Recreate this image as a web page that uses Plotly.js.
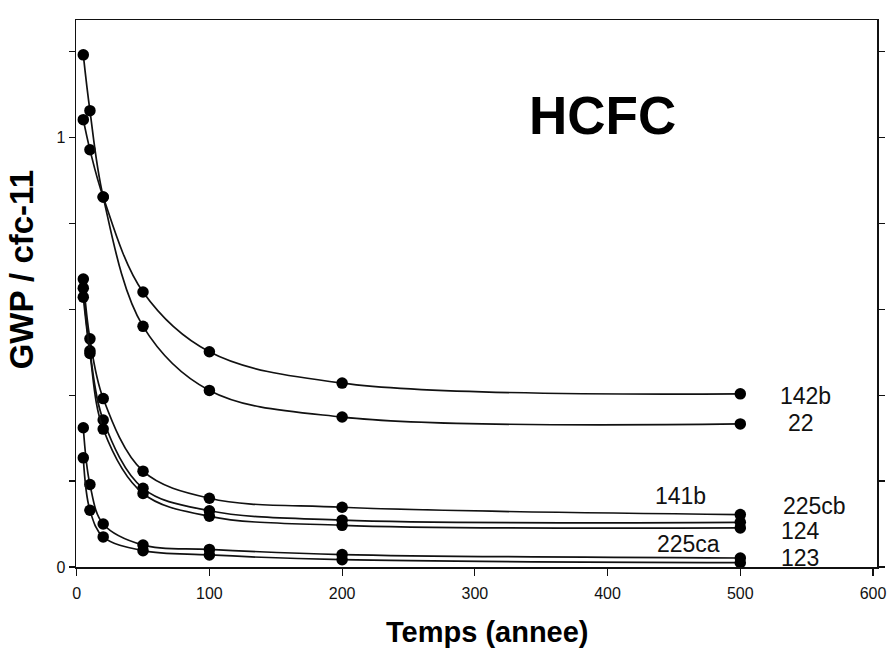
<!DOCTYPE html>
<html>
<head>
<meta charset="utf-8">
<script src="https://cdn.plot.ly/plotly-3.0.1.min.js"></script>
<style>
html,body{margin:0;padding:0;background:#fff;}
#chart{width:892px;height:651px;}
</style>
</head>
<body>
<div id="chart"></div>
<script>
// Time horizons (years)
const years = [5, 10, 20, 50, 100, 200, 500];
// GWP relative to CFC-11
const hcfc142b  = [1.041, 0.971, 0.861, 0.640, 0.501, 0.428, 0.403];
const hcfc22    = [1.192, 1.062, 0.861, 0.560, 0.411, 0.349, 0.333];
const hcfc141b  = [0.670, 0.531, 0.392, 0.223, 0.160, 0.139, 0.122];
const hcfc225cb = [0.649, 0.503, 0.342, 0.183, 0.131, 0.109, 0.104];
const hcfc124   = [0.628, 0.497, 0.321, 0.171, 0.118, 0.097, 0.091];
const hcfc225ca = [0.324, 0.192, 0.100, 0.051, 0.041, 0.029, 0.021];
const hcfc123   = [0.254, 0.132, 0.070, 0.038, 0.028, 0.017, 0.010];

const seriesNames = ['142b', '22', '141b', '225cb', '124', '225ca', '123'];
const seriesValues = [hcfc142b, hcfc22, hcfc141b, hcfc225cb, hcfc124, hcfc225ca, hcfc123];

const xTicks = [0, 100, 200, 300, 400, 500, 600];
const yTickVals = [0, 0.2, 0.4, 0.6, 0.8, 1.0, 1.2];
const yTickText = ['0', '', '', '', '', '1', ''];

const traces = seriesNames.map((n, i) => ({
  type: 'scatter',
  mode: 'lines+markers',
  name: n,
  x: years,
  y: seriesValues[i],
  line: {color: '#111', width: 1.7, shape: 'spline', smoothing: 1},
  marker: {color: '#000', size: 11.5},
  showlegend: false,
  hoverinfo: 'skip'
}));

// label placement (positions only)
const labelPos = {
  '142b':  {x: 549, y: 0.397},
  '22':    {x: 546, y: 0.336},
  '141b':  {x: 455, y: 0.166},
  '225cb': {x: 556, y: 0.141},
  '124':   {x: 545, y: 0.083},
  '225ca': {x: 461, y: 0.053},
  '123':   {x: 545, y: 0.021}
};
const labelFont = {family: 'Liberation Sans, Arial, sans-serif', size: 23, color: '#111'};

const annotations = seriesNames.map(n => ({
  x: labelPos[n].x, y: labelPos[n].y, xref: 'x', yref: 'y',
  text: n, showarrow: false, font: labelFont,
  xanchor: 'center', yanchor: 'middle'
}));
annotations.push({
  x: 396, y: 1.05, xref: 'x', yref: 'y', text: '<b>HCFC</b>', showarrow: false,
  font: {family: 'Liberation Sans, Arial, sans-serif', size: 53, color: '#000'},
  xanchor: 'center', yanchor: 'middle'
});
// axis titles
annotations.push({
  x: -0.067, y: 0.543, xref: 'paper', yref: 'paper', text: '<b>GWP / cfc-11</b>',
  showarrow: false, textangle: -90,
  font: {family: 'Liberation Sans, Arial, sans-serif', size: 33, color: '#000'},
  xanchor: 'center', yanchor: 'middle'
});
annotations.push({
  x: 0.514, y: -0.119, xref: 'paper', yref: 'paper', text: '<b>Temps (annee)</b>',
  showarrow: false,
  font: {family: 'Liberation Sans, Arial, sans-serif', size: 29, color: '#000'},
  xanchor: 'center', yanchor: 'middle'
});

const tickFont = {family: 'Liberation Sans Narrow, Arial Narrow, Liberation Sans, sans-serif', size: 16, color: '#111'};

const layout = {
  width: 892, height: 651,
  paper_bgcolor: '#fff', plot_bgcolor: '#fff',
  margin: {l: 76, r: 15, t: 20, b: 84},
  xaxis: {
    range: [-0.5, 603],
    tickvals: xTicks,
    ticktext: xTicks.map(String),
    ticks: 'outside', ticklen: 7, tickwidth: 1.2, tickcolor: '#111',
    ticklabelstandoff: 4,
    showline: true, linecolor: '#111', linewidth: 1.5, mirror: true,
    showgrid: false, zeroline: false,
    tickfont: tickFont
  },
  yaxis: {
    range: [0, 1.273],
    tickvals: yTickVals,
    ticktext: yTickText,
    ticks: 'outside', ticklen: 6, tickwidth: 1.2, tickcolor: '#111',
    showline: true, linecolor: '#111', linewidth: 1.5, mirror: 'ticks',
    showgrid: false, zeroline: false,
    tickfont: tickFont
  },
  annotations: annotations
};

Plotly.newPlot('chart', traces, layout, {displayModeBar: false, staticPlot: true});
</script>
</body>
</html>
